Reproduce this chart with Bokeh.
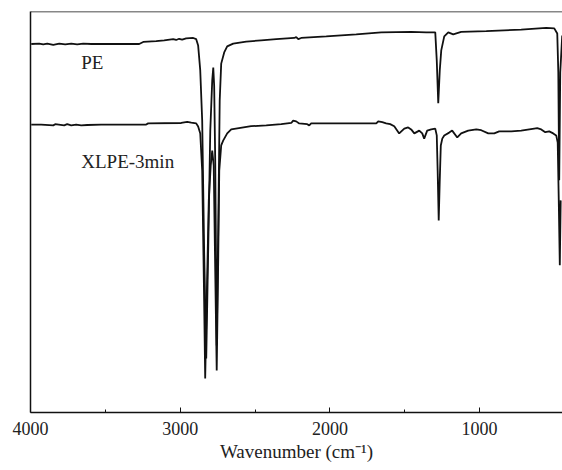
from bokeh.plotting import figure
from bokeh.models import Range1d, FixedTicker, Span, Label
from bokeh.embed import file_html
from bokeh.resources import INLINE

# PE spectrum (wavenumber, transmittance a.u.)
pe_wn = [3995, 3942, 3915, 3888, 3848, 3808, 3768, 3728, 3688, 3648, 3594, 3461, 3274, 3247,
         3160, 3107, 3047, 3027, 3007, 2987, 2960, 2913, 2893, 2880, 2866, 2853, 2840, 2826,
         2813, 2799, 2786, 2779, 2773, 2766, 2756, 2746, 2736, 2726, 2706, 2686, 2646, 2559,
         2459, 2358, 2238, 2225, 2211, 2192, 2024, 1824, 1657, 1457, 1356, 1296, 1286, 1276,
         1266, 1256, 1236, 1209, 1176, 1123, 955, 722, 555, 501, 481, 474, 468, 461, 448]
pe_t = [91.9, 92.0, 91.8, 92.0, 91.7, 92.0, 91.8, 92.0, 91.8, 92.0, 91.9, 91.9, 91.9, 92.4,
        92.6, 92.8, 93.1, 92.9, 93.2, 93.0, 93.3, 93.4, 93.1, 91.5, 85.3, 72.8, 40.4, 13.5,
        40.4, 70.3, 82.8, 86.0, 81.5, 62.8, 16.7, 45.4, 77.8, 87.0, 89.8, 91.3, 92.0, 92.5,
        92.8, 93.1, 93.4, 93.6, 93.1, 93.4, 93.8, 94.3, 94.8, 94.9, 94.8, 94.8, 87.8, 77.1,
        85.3, 90.3, 93.8, 94.8, 94.3, 94.9, 95.1, 95.5, 95.9, 95.8, 94.5, 84.8, 57.9, 84.8, 94.0]

# XLPE-3min spectrum
xl_wn = [3995, 3929, 3848, 3835, 3775, 3755, 3728, 3695, 3661, 3621, 3528, 3227, 3214, 2993,
         2953, 2926, 2893, 2880, 2866, 2853, 2840, 2833, 2823, 2809, 2796, 2786, 2776, 2766,
         2756, 2746, 2739, 2726, 2713, 2686, 2659, 2526, 2425, 2325, 2258, 2245, 2225, 2205,
         2151, 2138, 2125, 1690, 1677, 1650, 1624, 1597, 1570, 1537, 1503, 1477, 1457, 1436,
         1403, 1383, 1370, 1350, 1323, 1296, 1286, 1280, 1273, 1266, 1259, 1249, 1236, 1203,
         1183, 1149, 1123, 1076, 1022, 989, 942, 902, 869, 788, 722, 635, 615, 588, 561, 535,
         508, 488, 478, 471, 464, 458]
xl_t = [71.8, 71.8, 71.6, 71.9, 71.6, 71.9, 71.6, 71.8, 71.6, 71.7, 71.8, 71.8, 72.1, 72.2,
        72.5, 72.3, 72.1, 71.3, 69.6, 60.3, 27.9, 8.5, 27.9, 52.9, 61.6, 65.3, 61.6, 35.4,
        10.5, 37.9, 60.3, 66.6, 67.8, 69.6, 70.6, 71.4, 71.6, 71.9, 72.2, 72.8, 72.6, 72.1,
        71.9, 71.6, 72.1, 72.1, 72.6, 72.4, 72.1, 71.9, 71.4, 69.6, 70.8, 71.1, 70.6, 69.6,
        70.3, 69.6, 68.3, 70.3, 70.6, 70.8, 69.1, 60.3, 47.9, 57.9, 66.6, 68.3, 69.1, 69.8,
        70.3, 68.6, 69.6, 70.3, 70.6, 70.4, 69.6, 69.6, 70.1, 70.1, 70.3, 70.8, 70.9, 70.6, 69.9, 70.1,
        69.6, 69.1, 67.3, 52.9, 36.7, 52.9]

major_ticks = [4000, 3000, 2000, 1000]
minor_ticks = [3500, 2500, 1500]

FONT = "Liberation Serif"
INK = "#111111"
TXT = "#222222"

p = figure(frame_width=532, frame_height=401, output_backend="svg", toolbar_location=None,
           x_range=Range1d(4000, 446), y_range=Range1d(0, 100),
           min_border_left=30, min_border_right=0, min_border_top=11, min_border_bottom=0)
p.outline_line_color = None
p.grid.visible = False
p.background_fill_color = "white"
p.border_fill_color = "white"

p.line(pe_wn, pe_t, line_color=INK, line_width=1.8)
p.line(xl_wn, xl_t, line_color=INK, line_width=1.8)

xa = p.xaxis[0]
xa.ticker = FixedTicker(ticks=major_ticks, minor_ticks=minor_ticks)
xa.axis_line_color = INK
xa.axis_line_width = 1.5
xa.major_tick_in = 5
xa.major_tick_out = 0
xa.minor_tick_in = 3
xa.minor_tick_out = 0
xa.major_tick_line_color = INK
xa.minor_tick_line_color = INK
xa.major_label_text_font = FONT
xa.major_label_text_font_size = "18px"
xa.major_label_text_color = TXT
xa.major_label_standoff = 9
xa.axis_label = "Wavenumber (cm⁻¹)"
xa.axis_label_text_font = FONT
xa.axis_label_text_font_size = "19px"
xa.axis_label_text_font_style = "normal"
xa.axis_label_text_color = TXT
xa.axis_label_standoff = 3

ya = p.yaxis[0]
ya.ticker = FixedTicker(ticks=[])
ya.axis_line_color = INK
ya.axis_line_width = 1.5
ya.major_tick_line_color = None
ya.minor_tick_line_color = None
ya.major_label_standoff = 0

p.add_layout(Span(location=100, dimension="width", line_color=INK, line_width=1.5))

p.add_layout(Label(x=3661, y=87.3, text="PE", text_font=FONT, text_font_size="19px",
                   text_baseline="middle", text_align="left", text_color=TXT))
p.add_layout(Label(x=3661, y=62.6, text="XLPE-3min", text_font=FONT, text_font_size="19px",
                   text_baseline="middle", text_align="left", text_color=TXT))

open("out.html", "w").write(file_html(p, INLINE))
